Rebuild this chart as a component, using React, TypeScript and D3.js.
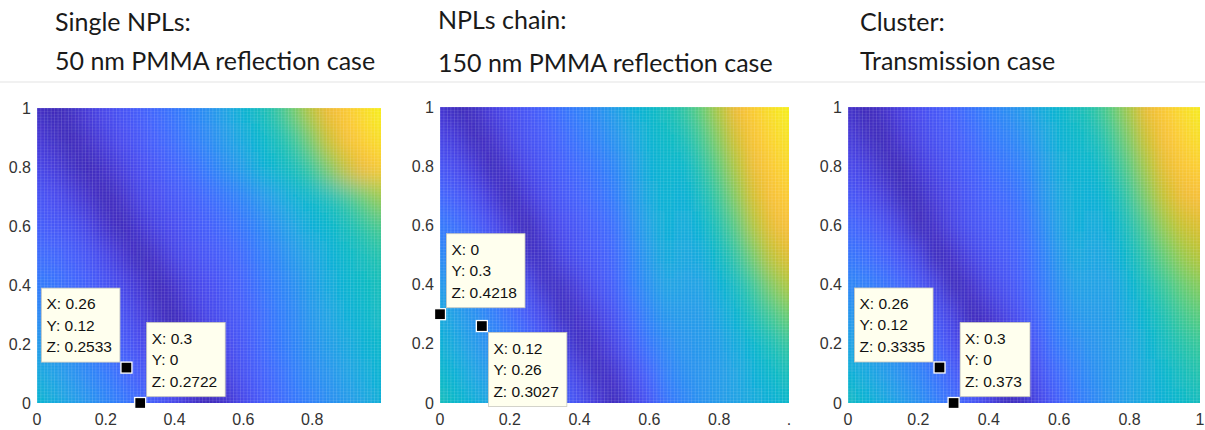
import React, { useMemo } from 'react';
import * as d3 from 'd3';

// ---------- data ----------
const xGrid = [0, 0.05, 0.1, 0.15, 0.2, 0.25, 0.3, 0.35, 0.4, 0.45, 0.5, 0.55, 0.6, 0.65, 0.7, 0.75, 0.8, 0.85, 0.9, 0.95, 1];
const yGrid = [0, 0.1, 0.2, 0.3, 0.4, 0.5, 0.6, 0.7, 0.8, 0.9, 1];

// rows ordered by yGrid (first row: y = 0), columns by xGrid; values = position on the colour map
const zSingle = [
  [0.45, 0.41, 0.37, 0.33, 0.29, 0.25, 0.21, 0.17, 0.12, 0.06, 0.02, 0.05, 0.11, 0.16, 0.20, 0.24, 0.27, 0.31, 0.34, 0.38, 0.42],
  [0.40, 0.37, 0.33, 0.29, 0.25, 0.21, 0.17, 0.12, 0.07, 0.02, 0.04, 0.09, 0.14, 0.18, 0.22, 0.26, 0.30, 0.33, 0.37, 0.40, 0.44],
  [0.35, 0.32, 0.29, 0.25, 0.21, 0.17, 0.13, 0.08, 0.03, 0.03, 0.08, 0.12, 0.16, 0.20, 0.24, 0.28, 0.32, 0.36, 0.39, 0.43, 0.46],
  [0.30, 0.28, 0.25, 0.21, 0.18, 0.14, 0.09, 0.04, 0.02, 0.07, 0.11, 0.14, 0.17, 0.21, 0.25, 0.29, 0.34, 0.38, 0.42, 0.45, 0.48],
  [0.26, 0.24, 0.21, 0.18, 0.15, 0.11, 0.06, 0.02, 0.05, 0.10, 0.13, 0.16, 0.19, 0.23, 0.27, 0.31, 0.36, 0.40, 0.44, 0.47, 0.50],
  [0.22, 0.20, 0.18, 0.15, 0.11, 0.06, 0.02, 0.05, 0.10, 0.13, 0.16, 0.18, 0.21, 0.25, 0.29, 0.34, 0.38, 0.42, 0.46, 0.49, 0.53],
  [0.18, 0.16, 0.14, 0.10, 0.05, 0.02, 0.06, 0.10, 0.13, 0.16, 0.18, 0.21, 0.24, 0.28, 0.33, 0.38, 0.42, 0.45, 0.49, 0.54, 0.59],
  [0.15, 0.13, 0.09, 0.05, 0.02, 0.05, 0.10, 0.13, 0.16, 0.18, 0.21, 0.24, 0.28, 0.33, 0.38, 0.43, 0.46, 0.50, 0.56, 0.63, 0.69],
  [0.11, 0.08, 0.04, 0.02, 0.05, 0.09, 0.13, 0.16, 0.19, 0.22, 0.26, 0.31, 0.36, 0.42, 0.46, 0.50, 0.57, 0.66, 0.75, 0.82, 0.87],
  [0.07, 0.04, 0.02, 0.05, 0.09, 0.13, 0.16, 0.19, 0.22, 0.26, 0.30, 0.35, 0.40, 0.45, 0.50, 0.57, 0.66, 0.76, 0.84, 0.89, 0.93],
  [0.04, 0.02, 0.04, 0.08, 0.12, 0.15, 0.18, 0.21, 0.24, 0.28, 0.32, 0.38, 0.44, 0.49, 0.56, 0.65, 0.74, 0.82, 0.87, 0.92, 0.97],
];

const zChain = [
  [0.50, 0.46, 0.42, 0.38, 0.34, 0.29, 0.24, 0.19, 0.14, 0.08, 0.02, 0.08, 0.15, 0.23, 0.28, 0.32, 0.35, 0.37, 0.40, 0.42, 0.46],
  [0.46, 0.42, 0.38, 0.34, 0.30, 0.25, 0.20, 0.15, 0.09, 0.03, 0.05, 0.12, 0.19, 0.27, 0.31, 0.33, 0.35, 0.38, 0.42, 0.46, 0.50],
  [0.43, 0.39, 0.35, 0.30, 0.26, 0.21, 0.16, 0.10, 0.03, 0.05, 0.10, 0.17, 0.24, 0.30, 0.33, 0.34, 0.36, 0.40, 0.45, 0.50, 0.56],
  [0.40, 0.36, 0.32, 0.27, 0.22, 0.17, 0.11, 0.03, 0.05, 0.09, 0.14, 0.21, 0.28, 0.34, 0.35, 0.35, 0.39, 0.44, 0.51, 0.58, 0.64],
  [0.35, 0.31, 0.27, 0.23, 0.18, 0.12, 0.04, 0.04, 0.09, 0.14, 0.18, 0.25, 0.32, 0.38, 0.37, 0.37, 0.42, 0.48, 0.57, 0.66, 0.72],
  [0.30, 0.27, 0.23, 0.18, 0.12, 0.04, 0.04, 0.10, 0.14, 0.17, 0.20, 0.27, 0.35, 0.41, 0.39, 0.40, 0.47, 0.55, 0.65, 0.74, 0.79],
  [0.25, 0.22, 0.18, 0.13, 0.06, 0.02, 0.08, 0.13, 0.16, 0.19, 0.22, 0.30, 0.38, 0.43, 0.40, 0.44, 0.52, 0.61, 0.72, 0.80, 0.84],
  [0.20, 0.17, 0.13, 0.07, 0.02, 0.07, 0.12, 0.16, 0.19, 0.22, 0.25, 0.33, 0.40, 0.44, 0.42, 0.48, 0.57, 0.67, 0.77, 0.84, 0.88],
  [0.15, 0.12, 0.07, 0.02, 0.06, 0.11, 0.15, 0.18, 0.21, 0.24, 0.28, 0.35, 0.42, 0.45, 0.45, 0.53, 0.62, 0.72, 0.81, 0.87, 0.91],
  [0.10, 0.07, 0.02, 0.05, 0.10, 0.14, 0.17, 0.20, 0.24, 0.28, 0.32, 0.38, 0.44, 0.47, 0.50, 0.58, 0.67, 0.77, 0.85, 0.90, 0.94],
  [0.06, 0.02, 0.04, 0.09, 0.13, 0.16, 0.19, 0.23, 0.27, 0.31, 0.36, 0.42, 0.46, 0.50, 0.55, 0.63, 0.72, 0.82, 0.88, 0.93, 0.97],
];

const zCluster = [
  [0.48, 0.44, 0.40, 0.36, 0.32, 0.27, 0.22, 0.17, 0.11, 0.03, 0.04, 0.11, 0.18, 0.24, 0.29, 0.33, 0.37, 0.40, 0.43, 0.46, 0.49],
  [0.43, 0.40, 0.36, 0.32, 0.28, 0.23, 0.18, 0.12, 0.05, 0.03, 0.08, 0.15, 0.21, 0.27, 0.31, 0.34, 0.37, 0.41, 0.45, 0.49, 0.53],
  [0.38, 0.35, 0.32, 0.28, 0.24, 0.19, 0.13, 0.06, 0.02, 0.07, 0.12, 0.18, 0.25, 0.30, 0.33, 0.35, 0.38, 0.43, 0.48, 0.53, 0.57],
  [0.34, 0.31, 0.28, 0.24, 0.20, 0.15, 0.09, 0.02, 0.05, 0.10, 0.15, 0.21, 0.28, 0.34, 0.35, 0.36, 0.40, 0.46, 0.52, 0.58, 0.62],
  [0.29, 0.27, 0.24, 0.20, 0.16, 0.10, 0.02, 0.05, 0.10, 0.14, 0.18, 0.24, 0.31, 0.37, 0.37, 0.37, 0.43, 0.50, 0.57, 0.63, 0.67],
  [0.24, 0.22, 0.19, 0.15, 0.10, 0.02, 0.05, 0.10, 0.14, 0.17, 0.20, 0.26, 0.34, 0.40, 0.38, 0.40, 0.47, 0.55, 0.63, 0.69, 0.73],
  [0.20, 0.18, 0.14, 0.09, 0.02, 0.05, 0.10, 0.14, 0.17, 0.19, 0.22, 0.29, 0.37, 0.42, 0.40, 0.43, 0.51, 0.60, 0.69, 0.75, 0.78],
  [0.16, 0.13, 0.09, 0.03, 0.03, 0.08, 0.12, 0.16, 0.19, 0.21, 0.24, 0.32, 0.39, 0.43, 0.42, 0.47, 0.56, 0.66, 0.75, 0.81, 0.84],
  [0.12, 0.09, 0.04, 0.02, 0.07, 0.11, 0.15, 0.18, 0.21, 0.24, 0.27, 0.34, 0.41, 0.44, 0.45, 0.52, 0.61, 0.71, 0.80, 0.86, 0.89],
  [0.08, 0.04, 0.02, 0.06, 0.10, 0.14, 0.17, 0.20, 0.24, 0.27, 0.31, 0.37, 0.43, 0.46, 0.49, 0.57, 0.66, 0.76, 0.84, 0.89, 0.93],
  [0.05, 0.02, 0.05, 0.09, 0.13, 0.16, 0.19, 0.23, 0.27, 0.31, 0.35, 0.41, 0.45, 0.49, 0.54, 0.62, 0.71, 0.81, 0.87, 0.92, 0.96],
];

const titlesSingle = ['Single NPLs:', '50 nm PMMA reflection case'];
const titlesChain = ['NPLs chain:', '150 nm PMMA reflection case'];
const titlesCluster = ['Cluster:', 'Transmission case'];

const tickValues = [0, 0.2, 0.4, 0.6, 0.8, 1];
const yTickLabels = ['0', '0.2', '0.4', '0.6', '0.8', '1'];
const xTickLabelsSingle = ['0', '0.2', '0.4', '0.6', '0.8', ''];
const xTickLabelsChain = ['0', '0.2', '0.4', '0.6', '0.8', '.'];
const xTickLabelsCluster = ['0', '0.2', '0.4', '0.6', '0.8', '1'];

const tipsSingle = [
  { x: 0.26, y: 0.12, z: 0.2533 },
  { x: 0.3, y: 0, z: 0.2722 },
];
const tipsChain = [
  { x: 0, y: 0.3, z: 0.4218 },
  { x: 0.12, y: 0.26, z: 0.3027 },
];
const tipsCluster = [
  { x: 0.26, y: 0.12, z: 0.3335 },
  { x: 0.3, y: 0, z: 0.373 },
];

// MATLAB parula colour map (sampled)
const parulaColors = [
  '#3e26a8', '#4537d5', '#484df0', '#4563fd', '#327bfc', '#2b91ef', '#20a5e3', '#08b5d0',
  '#19bfb6', '#37c897', '#64cd6f', '#9dc943', '#d1bf27', '#f8ba3d', '#fccf30', '#f5e924', '#f9fb15',
];

// ---------- layout ----------
const W = 1205;
const H = 430;

const panels = [
  { z: zSingle, titles: titlesSingle, xLabels: xTickLabelsSingle, tips: tipsSingle, place: ['ul', 'ur'],
    left: 37, right: 381, top: 108, bottom: 403, titleX: 55, titleY: [31, 70] },
  { z: zChain, titles: titlesChain, xLabels: xTickLabelsChain, tips: tipsChain, place: ['ur', 'dr'],
    left: 440, right: 789, top: 107, bottom: 403, titleX: 438, titleY: [29, 72] },
  { z: zCluster, titles: titlesCluster, xLabels: xTickLabelsCluster, tips: tipsCluster, place: ['ul', 'ur'],
    left: 848, right: 1200, top: 107, bottom: 403, titleX: 860, titleY: [31, 70] },
];

const color = d3
  .scaleLinear<string>()
  .domain(parulaColors.map((_, i) => Math.min(i * 4, 63) / 63))
  .range(parulaColors)
  .interpolate(d3.interpolateRgb)
  .clamp(true);

const SANS = '"Liberation Sans", Arial, Helvetica, sans-serif';
const TIP_FONT = `15.5px ${SANS}`;
let measureCtx: CanvasRenderingContext2D | null = null;
function textWidth(s: string) {
  if (!measureCtx) {
    const c = document.createElement('canvas');
    measureCtx = c.getContext('2d');
  }
  if (!measureCtx) return s.length * 8;
  measureCtx.font = TIP_FONT;
  return measureCtx.measureText(s).width;
}

function Panel({ p, idx }: { p: any; idx: number }) {
  const x = d3.scaleLinear().domain([0, 1]).range([p.left, p.right]);
  const y = d3.scaleLinear().domain([0, 1]).range([p.bottom, p.top]);
  const hx = (xGrid[1] - xGrid[0]) / 2;
  const hy = (yGrid[1] - yGrid[0]) / 2;
  const ext = 45;
  const lastX = xGrid.length - 1;
  const lastY = yGrid.length - 1;

  const cells: any[] = [];
  p.z.forEach((row: number[], j: number) => {
    row.forEach((v: number, i: number) => {
      const x0 = i === 0 ? x(0) - ext : x(xGrid[i] - hx);
      const x1 = i === lastX ? x(1) + ext : x(xGrid[i] + hx);
      const y0 = j === lastY ? y(1) - ext : y(yGrid[j] + hy);
      const y1 = j === 0 ? y(0) + ext : y(yGrid[j] - hy);
      cells.push(
        <rect key={`${i}-${j}`} x={x0 - 0.5} y={y0 - 0.5} width={x1 - x0 + 1} height={y1 - y0 + 1} fill={color(v)} />
      );
    });
  });

  const cw = x(hx * 2) - x(0);
  const ch = y(0) - y(hy * 2);
  const meshW = x(0.01) - x(0);
  const meshH = y(0) - y(0.01);
  const pw = p.right - p.left;
  const ph = p.bottom - p.top;

  const ms = 11;
  const boxH = 74;

  return (
    <g>
      <defs>
        <clipPath id={`clip-${idx}`}>
          <rect x={p.left} y={p.top} width={pw} height={ph} />
        </clipPath>
        <filter id={`blur-${idx}`} filterUnits="userSpaceOnUse" x={p.left - 80} y={p.top - 80} width={pw + 160} height={ph + 160}>
          <feGaussianBlur stdDeviation={`${cw * 0.42} ${ch * 0.42}`} />
        </filter>
        <pattern id={`mesh-${idx}`} patternUnits="userSpaceOnUse" x={p.left} y={p.top} width={meshW} height={meshH}>
          <rect x={0} y={0} width={meshW} height={0.7} fill="#ffffff" opacity={0.1} />
          <rect x={0} y={0} width={0.8} height={meshH} fill="#ffffff" opacity={0.14} />
        </pattern>
      </defs>

      {p.titles.map((t: string, k: number) => (
        <text key={k} x={p.titleX} y={p.titleY[k]} fontFamily="Lato, 'Open Sans', sans-serif" fontSize={25} fill="#1a1a1a">
          {t}
        </text>
      ))}

      <g clipPath={`url(#clip-${idx})`}>
        <g filter={`url(#blur-${idx})`}>{cells}</g>
        <rect x={p.left} y={p.top} width={pw} height={ph} fill={`url(#mesh-${idx})`} />
      </g>

      {tickValues.map((t, k) => (
        <text key={`yt${k}`} x={p.left - 6} y={y(t)} dy="0.35em" textAnchor="end"
          fontFamily={SANS} fontSize={16} fill="#333">
          {yTickLabels[k]}
        </text>
      ))}
      {tickValues.map((t, k) => (
        <text key={`xt${k}`} x={x(t)} y={p.bottom + 22} textAnchor="middle"
          fontFamily={SANS} fontSize={16} fill="#333">
          {p.xLabels[k]}
        </text>
      ))}

      {p.tips.map((tp: any, k: number) => {
        const cx = x(tp.x);
        const cy = y(tp.y);
        const lines = [`X: ${tp.x}`, `Y: ${tp.y}`, `Z: ${tp.z}`];
        const bw = Math.max(...lines.map(textWidth)) + 13;
        const pl = p.place[k];
        const half = ms / 2;
        let bx = 0;
        let by = 0;
        if (pl === 'ul') { bx = cx - half - bw - 1; by = cy - half - boxH; }
        else if (pl === 'ur') { bx = cx + half + 1; by = cy - half - boxH - 1; }
        else { bx = cx + half + 1; by = cy + half + 1; }
        return (
          <g key={`tip${k}`}>
            <rect x={bx} y={by} width={bw} height={boxH} fill="#ffffee" stroke="#c9c9bf" strokeWidth={0.8} />
            {lines.map((l, m) => (
              <text key={m} x={bx + 5} y={by + 21 + m * 21.5} fontFamily={SANS} fontSize={15.5} fill="#111">
                {l}
              </text>
            ))}
            <rect x={cx - half} y={cy - half} width={ms} height={ms} fill="#000" stroke="#fff" strokeWidth={1.3} />
          </g>
        );
      })}
    </g>
  );
}

export default function App() {
  useMemo(() => {
    if (typeof document !== 'undefined') document.body.style.margin = '0';
  }, []);
  return (
    <svg width={W} height={H} style={{ position: 'absolute', left: 0, top: 0, display: 'block', background: '#fff' }}>
      <rect x={0} y={0} width={W} height={H} fill="#fff" />
      <line x1={0} x2={W} y1={82} y2={82} stroke="#f1f1f1" strokeWidth={2} />
      {panels.map((p, i) => (
        <Panel key={i} p={p} idx={i} />
      ))}
    </svg>
  );
}
